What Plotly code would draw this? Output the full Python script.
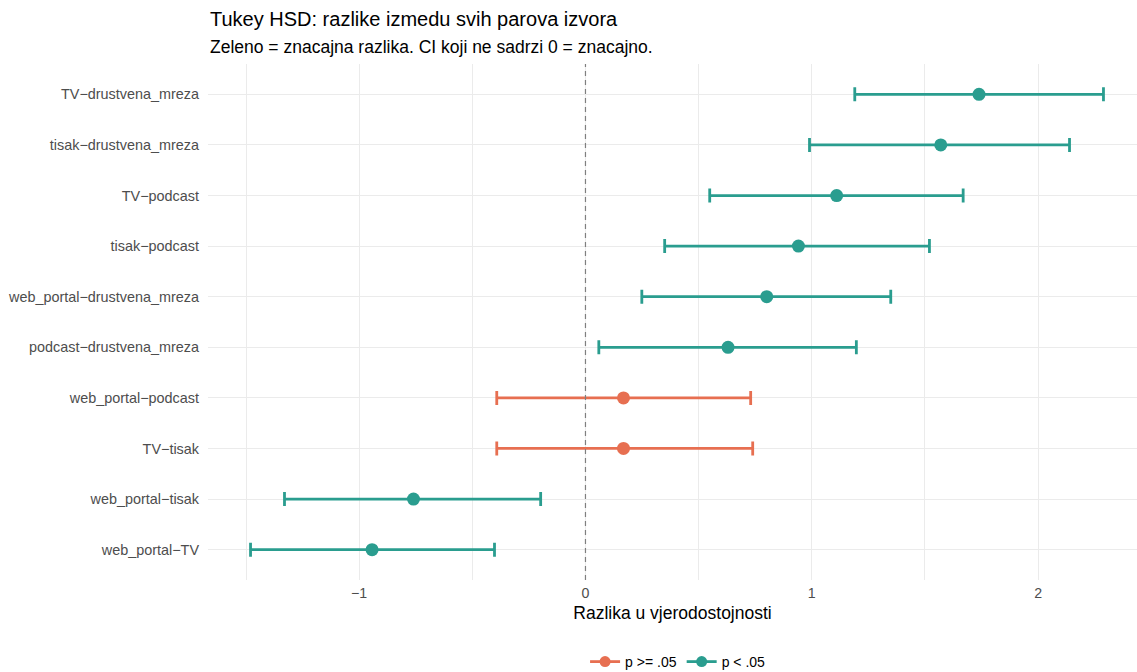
import plotly.graph_objects as go

# Comparisons, top to bottom as displayed
comparisons = [
    "TV\u2212drustvena_mreza",
    "tisak\u2212drustvena_mreza",
    "TV\u2212podcast",
    "tisak\u2212podcast",
    "web_portal\u2212drustvena_mreza",
    "podcast\u2212drustvena_mreza",
    "web_portal\u2212podcast",
    "TV\u2212tisak",
    "web_portal\u2212tisak",
    "web_portal\u2212TV",
]
diff = [1.739, 1.570, 1.110, 0.941, 0.801, 0.630, 0.168, 0.168, -0.760, -0.943]
lwr = [1.190, 0.990, 0.549, 0.350, 0.249, 0.059, -0.392, -0.392, -1.330, -1.480]
upr = [2.289, 2.139, 1.669, 1.520, 1.349, 1.197, 0.730, 0.739, -0.198, -0.402]
significant = [True, True, True, True, True, True, False, False, True, True]

x_ticks = [-1, 0, 1, 2]
GREEN = "#2A9D8F"
ORANGE = "#E76F51"

W, H = 1137, 672
ML, MR, MT, MB = 208, 0, 64, 92
PH = H - MT - MB

fig = go.Figure()

groups = [(False, "p >= .05", ORANGE), (True, "p < .05", GREEN)]
for sig, name, col in groups:
    idx = [i for i, s in enumerate(significant) if s == sig]
    xs = [diff[i] for i in idx]
    ys = [comparisons[i] for i in idx]
    plus = [upr[i] - diff[i] for i in idx]
    minus = [diff[i] - lwr[i] for i in idx]
    fig.add_trace(go.Scatter(
        x=xs, y=ys, mode="markers", name=name, showlegend=False,
        marker=dict(color=col, size=13, line=dict(width=0)),
        error_x=dict(type="data", symmetric=False, array=plus, arrayminus=minus,
                     color=col, thickness=2.8, width=7),
        hovertemplate="%{y}: %{x:.3f}<extra></extra>",
    ))

for sig, name, col in groups:
    fig.add_trace(go.Scatter(
        x=[None], y=[None], mode="lines+markers", name=name,
        marker=dict(color=col, size=11), line=dict(color=col, width=2.8),
    ))

fig.add_shape(type="line", xref="x", yref="paper", x0=0, x1=0, y0=0, y1=1,
              line=dict(color="#7F7F7F", width=1.2, dash="5px,4px"), layer="above")

x_min = -1.668
x_max = x_min + (W - ML - MR) / 226.3

fig.update_layout(
    width=W, height=H,
    margin=dict(l=ML, r=MR, t=MT, b=MB, autoexpand=False),
    paper_bgcolor="white", plot_bgcolor="white",
    font=dict(family="Liberation Sans, Arial, sans-serif", color="#4D4D4D", size=14),
    xaxis=dict(
        range=[x_min, x_max], tickvals=x_ticks,
        ticktext=["\u22121", "0", "1", "2"],
        showgrid=True, gridcolor="#EBEBEB", gridwidth=1.1,
        zeroline=False, showline=False, ticks="", automargin=False,
        ticklabelstandoff=3,
        tickfont=dict(size=14.2, color="#4D4D4D"),
        minor=dict(tickvals=[-1.5, -0.5, 0.5, 1.5], showgrid=True,
                   gridcolor="#EBEBEB", gridwidth=0.6),
        title=dict(text="Razlika u vjerodostojnosti",
                   font=dict(size=17.5, color="black"), standoff=6),
    ),
    yaxis=dict(
        type="category", categoryorder="array",
        categoryarray=comparisons[::-1], range=[-0.6, 9.6],
        showgrid=True, gridcolor="#EBEBEB", gridwidth=1.1,
        zeroline=False, showline=False, ticks="", automargin=False,
        ticklabelstandoff=8,
        tickfont=dict(size=14.4, color="#4D4D4D"),
    ),
    legend=dict(orientation="h", xref="paper", x=0.506, xanchor="center",
                yref="paper", y=-(662 - (MT + PH)) / PH, yanchor="middle",
                font=dict(size=14, color="black"), itemwidth=30,
                bgcolor="rgba(0,0,0,0)"),
    showlegend=True,
)

fig.add_annotation(
    text="Tukey HSD: razlike izmedu svih parova izvora",
    xref="paper", yref="paper", x=0, xanchor="left",
    y=1 + (MT - 19) / PH, yanchor="middle", showarrow=False,
    font=dict(size=20, color="black"),
)
fig.add_annotation(
    text="Zeleno = znacajna razlika. CI koji ne sadrzi 0 = znacajno.",
    xref="paper", yref="paper", x=0, xanchor="left",
    y=1 + (MT - 47) / PH, yanchor="middle", showarrow=False,
    font=dict(size=17.5, color="black"),
)

fig.write_html(
    "out.html",
    config={"displayModeBar": False},
    post_script="document.body.style.margin='0';document.body.style.overflow='hidden';",
)
